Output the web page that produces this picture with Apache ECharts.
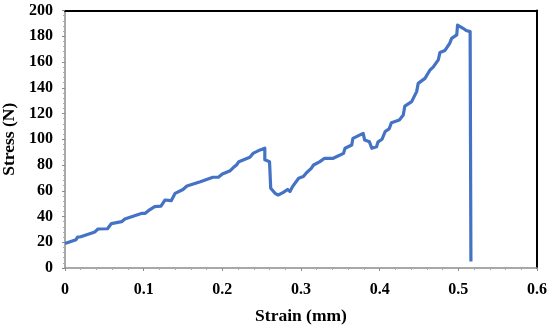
<!DOCTYPE html>
<html>
<head>
<meta charset="utf-8">
<script src="https://cdn.jsdelivr.net/npm/echarts@6/dist/echarts.min.js"></script>
<style>html,body{margin:0;padding:0;background:#fff}#c{width:550px;height:325px}</style>
</head>
<body>
<div id="c"></div>
<script>
const xTitle = 'Strain (mm)';
const yTitle = 'Stress (N)';
const strain = [0, 0.014, 0.016, 0.02, 0.038, 0.042, 0.054, 0.059, 0.072, 0.076, 0.097, 0.102, 0.106, 0.114, 0.122, 0.127, 0.135, 0.14, 0.15, 0.155, 0.172, 0.188, 0.195, 0.2, 0.21, 0.214, 0.218, 0.221, 0.235, 0.239, 0.248, 0.254, 0.254, 0.26, 0.2615, 0.267, 0.271, 0.277, 0.283, 0.286, 0.289, 0.297, 0.303, 0.307, 0.313, 0.316, 0.324, 0.33, 0.341, 0.354, 0.356, 0.3645, 0.366, 0.379, 0.381, 0.387, 0.39, 0.396, 0.398, 0.403, 0.407, 0.412, 0.415, 0.425, 0.43, 0.432, 0.4407, 0.447, 0.449, 0.4576, 0.464, 0.468, 0.4745, 0.4767, 0.483, 0.489, 0.4915, 0.498, 0.499, 0.506, 0.51, 0.515, 0.516];
const stress = [19, 22, 24, 24.3, 28, 30.3, 30.5, 34.5, 36, 38, 42.4, 42.5, 44.5, 47.6, 48, 52.8, 52.3, 58, 61, 63.7, 67, 70.5, 70.5, 73, 75.6, 78, 80, 82.6, 86, 89, 91.7, 93, 84, 82.6, 62, 58, 56.7, 58.5, 61, 59.5, 63, 69.7, 71, 74, 77.4, 80, 82.6, 85.2, 85.2, 89, 93, 95.5, 100.7, 104.6, 99.4, 98, 93, 94.2, 98, 100, 106, 108, 112.9, 115, 118.8, 125.8, 129.2, 137, 143.4, 147.3, 153.8, 156, 161.6, 167.4, 169, 174.5, 178.4, 181, 188.7, 186.2, 184.5, 183.6, 5];
const data = strain.map((x, i) => [x, stress[i]]);
const font = '"Liberation Serif", "Times New Roman", serif';
const chart = echarts.init(document.getElementById('c'));
chart.setOption({
  animation: false,
  grid: {left: 65, right: 13, top: 10.5, bottom: 57, containLabel: false, outerBoundsMode: 'none'},
  xAxis: [{
    type: 'value', min: 0, max: 0.6, interval: 0.1,
    name: xTitle, nameLocation: 'middle', nameGap: 39,
    nameTextStyle: {fontFamily: font, fontWeight: 'bold', fontSize: 17.5, color: '#000'},
    axisLine: {show: true, lineStyle: {color: '#8c8c8c', width: 1.5}},
    axisTick: {show: true, length: 3, lineStyle: {color: '#8c8c8c'}},
    minorTick: {show: true, splitNumber: 5, length: 2, lineStyle: {color: '#aaa'}},
    splitLine: {show: false},
    axisLabel: {fontFamily: font, fontWeight: 'bold', fontSize: 16, color: '#000', margin: 14,
      formatter: v => v === 0 ? '0' : v.toFixed(1)}
  }, {
    type: 'value', position: 'top', min: 0, max: 0.6,
    axisLine: {show: true, onZero: false, lineStyle: {color: '#000', width: 2}},
    axisTick: {show: false}, axisLabel: {show: false}, splitLine: {show: false}
  }],
  yAxis: [{
    type: 'value', min: 0, max: 200, interval: 20,
    name: yTitle, nameLocation: 'middle', nameGap: 47,
    nameTextStyle: {fontFamily: font, fontWeight: 'bold', fontSize: 17.5, color: '#000'},
    axisLine: {show: true, lineStyle: {color: '#8c8c8c', width: 1.5}},
    axisTick: {show: true, length: 3, lineStyle: {color: '#8c8c8c'}},
    minorTick: {show: true, splitNumber: 5, length: 2, lineStyle: {color: '#aaa'}},
    splitLine: {show: false},
    axisLabel: {fontFamily: font, fontWeight: 'bold', fontSize: 16, color: '#000', margin: 12}
  }, {
    type: 'value', position: 'right', min: 0, max: 200,
    axisLine: {show: true, onZero: false, lineStyle: {color: '#000', width: 2}},
    axisTick: {show: false}, axisLabel: {show: false}, splitLine: {show: false}
  }],
  series: [{
    type: 'line', data: data, showSymbol: false, symbol: 'none',
    lineStyle: {color: '#4472C4', width: 3.2, join: 'round'},
    itemStyle: {color: '#4472C4'}
  }]
});
</script>
</body>
</html>
